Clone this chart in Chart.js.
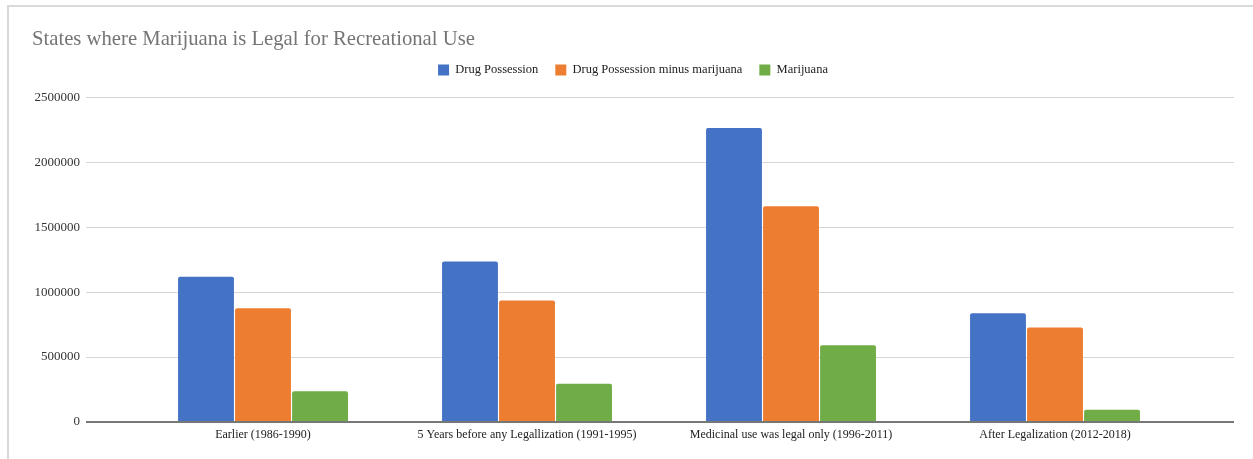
<!DOCTYPE html>
<html>
<head>
<meta charset="utf-8">
<title>States where Marijuana is Legal for Recreational Use</title>
<script src="https://cdn.jsdelivr.net/npm/chart.js@4/dist/chart.umd.min.js"></script>
<style>
  html, body { margin: 0; padding: 0; background: #fff; overflow: hidden; }
  #frame {
    position: absolute; left: 7px; top: 5px; right: -4px; bottom: -4px;
    border-left: 2px solid #d9d9d9; border-top: 2px solid #d9d9d9;
  }
  #wrap { position: absolute; left: 0; top: 0; width: 1253px; height: 459px; }
</style>
</head>
<body>
<div id="frame"></div>
<div id="wrap"><canvas id="chart" width="1253" height="459"></canvas></div>
<script>
// Arrest counts by period
const categories = [
  'Earlier (1986-1990)',
  '5 Years before any Legallization (1991-1995)',
  'Medicinal use was legal only (1996-2011)',
  'After Legalization (2012-2018)'
];
const drugPossession = [1118000, 1236000, 2264000, 838000];
const possessionMinusMarijuana = [875000, 936000, 1661000, 728000];
const marijuana = [236000, 295000, 590000, 95000];
const yTicks = [0, 500000, 1000000, 1500000, 2000000, 2500000];

const SERIF = "'Liberation Serif', 'DejaVu Serif', serif";

const series = [
  { label: 'Drug Possession', values: drugPossession, color: '#4472c4' },
  { label: 'Drug Possession minus marijuana', values: possessionMinusMarijuana, color: '#ed7d31' },
  { label: 'Marijuana', values: marijuana, color: '#70ad47' }
];

const datasets = series.map(s => ({
  label: s.label,
  data: s.values.map((v, i) => ({ x: i, y: v })),
  backgroundColor: s.color,
  borderColor: s.color,
  borderWidth: 0,
  borderRadius: { topLeft: 2, topRight: 2 },
  borderSkipped: 'bottom',
  categoryPercentage: 0.648,
  barPercentage: 0.98
}));

// y range: ticks stop at 2.5M, a little headroom above under the legend
const Y_TOP = 2500000 * 336 / 325;

new Chart(document.getElementById('chart'), {
  type: 'bar',
  data: { datasets },
  options: {
    responsive: false,
    animation: false,
    layout: { padding: { left: 32, right: 19, top: 0, bottom: 0 } },
    plugins: {
      title: {
        display: true,
        text: 'States where Marijuana is Legal for Recreational Use',
        align: 'start',
        color: '#757575',
        font: { family: SERIF, size: 20.7, weight: 'normal' },
        padding: { top: 27.6, bottom: -5.7 }
      },
      legend: {
        display: true,
        position: 'top',
        align: 'center',
        labels: {
          color: '#222',
          font: { family: SERIF, size: 12.5 },
          boxWidth: 11,
          boxHeight: 11,
          padding: 17
        }
      },
      tooltip: { enabled: false }
    },
    scales: {
      x: {
        type: 'linear',
        offset: false,
        min: -0.6705,
        max: 3.678,
        grid: { display: false, drawTicks: false, offset: false },
        border: { display: false },
        afterBuildTicks: (scale) => { scale.ticks = categories.map((_, i) => ({ value: i })); },
        afterFit: (scale) => { scale.height = 37; },
        ticks: {
          autoSkip: false,
          maxRotation: 0,
          padding: 6,
          color: '#222',
          font: { family: SERIF, size: 12 },
          callback: (v) => categories[v] ?? ''
        }
      },
      y: {
        min: 0,
        max: Y_TOP,
        border: { display: false },
        afterBuildTicks: (scale) => { scale.ticks = yTicks.map(v => ({ value: v })); },
        afterFit: (scale) => { scale.width = 54; },
        grid: {
          drawTicks: false,
          color: (ctx) => (ctx.tick && ctx.tick.value === 0) ? '#777' : '#d6d6d6',
          lineWidth: (ctx) => (ctx.tick && ctx.tick.value === 0) ? 2 : 1
        },
        ticks: {
          padding: 6,
          color: '#333',
          font: { family: SERIF, size: 13 },
          callback: (v) => String(v)
        }
      }
    }
  }
});
</script>
</body>
</html>
